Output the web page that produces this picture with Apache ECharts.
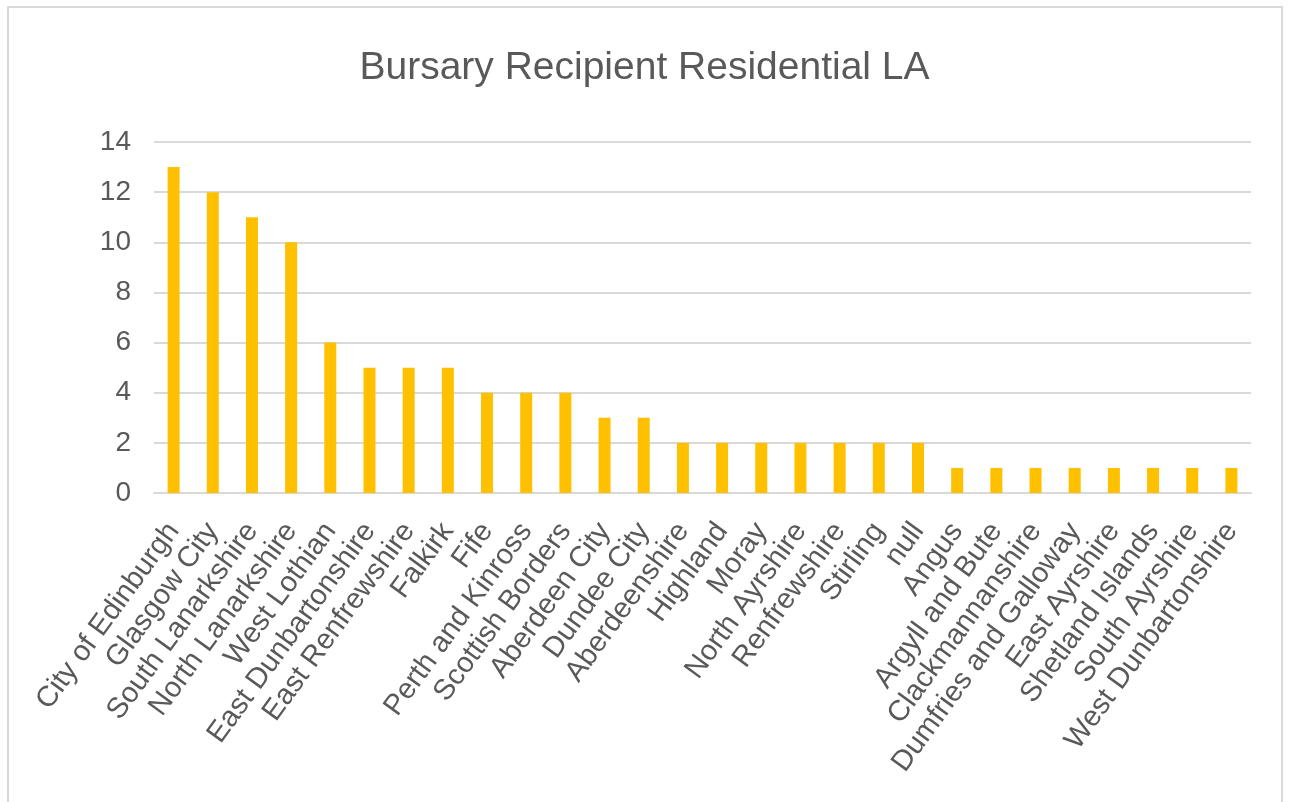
<!DOCTYPE html>
<html>
<head>
<meta charset="utf-8">
<script src="https://cdn.jsdelivr.net/npm/echarts@6/dist/echarts.min.js"></script>
<style>
html,body{margin:0;padding:0;background:#fff;}
#frame{position:absolute;left:7px;top:6px;width:1276px;height:800px;border:2px solid #d9d9d9;box-sizing:border-box;}
#chart{position:absolute;left:0;top:0;width:1289px;height:802px;}
</style>
</head>
<body>
<div id="frame"></div>
<div id="chart"></div>
<script>
const titleText = 'Bursary Recipient Residential LA';
const categories = ['City of Edinburgh','Glasgow City','South Lanarkshire','North Lanarkshire','West Lothian','East Dunbartonshire','East Renfrewshire','Falkirk','Fife','Perth and Kinross','Scottish Borders','Aberdeen City','Dundee City','Aberdeenshire','Highland','Moray','North Ayrshire','Renfrewshire','Stirling','null','Angus','Argyll and Bute','Clackmannanshire','Dumfries and Galloway','East Ayrshire','Shetland Islands','South Ayrshire','West Dunbartonshire'];
const values = [13,12,11,10,6,5,5,5,4,4,4,3,3,2,2,2,2,2,2,2,1,1,1,1,1,1,1,1];
const yTicks = {min:0, max:14, interval:2};

const font = '"Liberation Sans", Arial, sans-serif';
const chart = echarts.init(document.getElementById('chart'), null, {renderer:'canvas'});
chart.setOption({
  backgroundColor: 'transparent',
  animation: false,
  title: {
    text: titleText, left: 'center', top: 44,
    textStyle: {fontFamily: font, fontSize: 39, fontWeight: 'normal', color: '#595959'}
  },
  grid: {left: 154, right: 38, top: 142, bottom: 309, containLabel: false},
  xAxis: {
    type: 'category', data: categories,
    axisLine: {show: true, lineStyle: {color: '#d9d9d9', width: 2}},
    axisTick: {show: false},
    axisLabel: {interval: 0, rotate: 54, margin: 33, fontFamily: font, fontSize: 29, color: '#595959'}
  },
  yAxis: {
    type: 'value', min: yTicks.min, max: yTicks.max, interval: yTicks.interval,
    axisLine: {show: false}, axisTick: {show: false},
    splitLine: {lineStyle: {color: '#d9d9d9', width: 2}},
    axisLabel: {margin: 23, fontFamily: font, fontSize: 28, color: '#595959'}
  },
  series: [{
    type: 'bar', data: values, barWidth: 12,
    itemStyle: {color: '#FFC000'}
  }]
});
</script>
</body>
</html>
